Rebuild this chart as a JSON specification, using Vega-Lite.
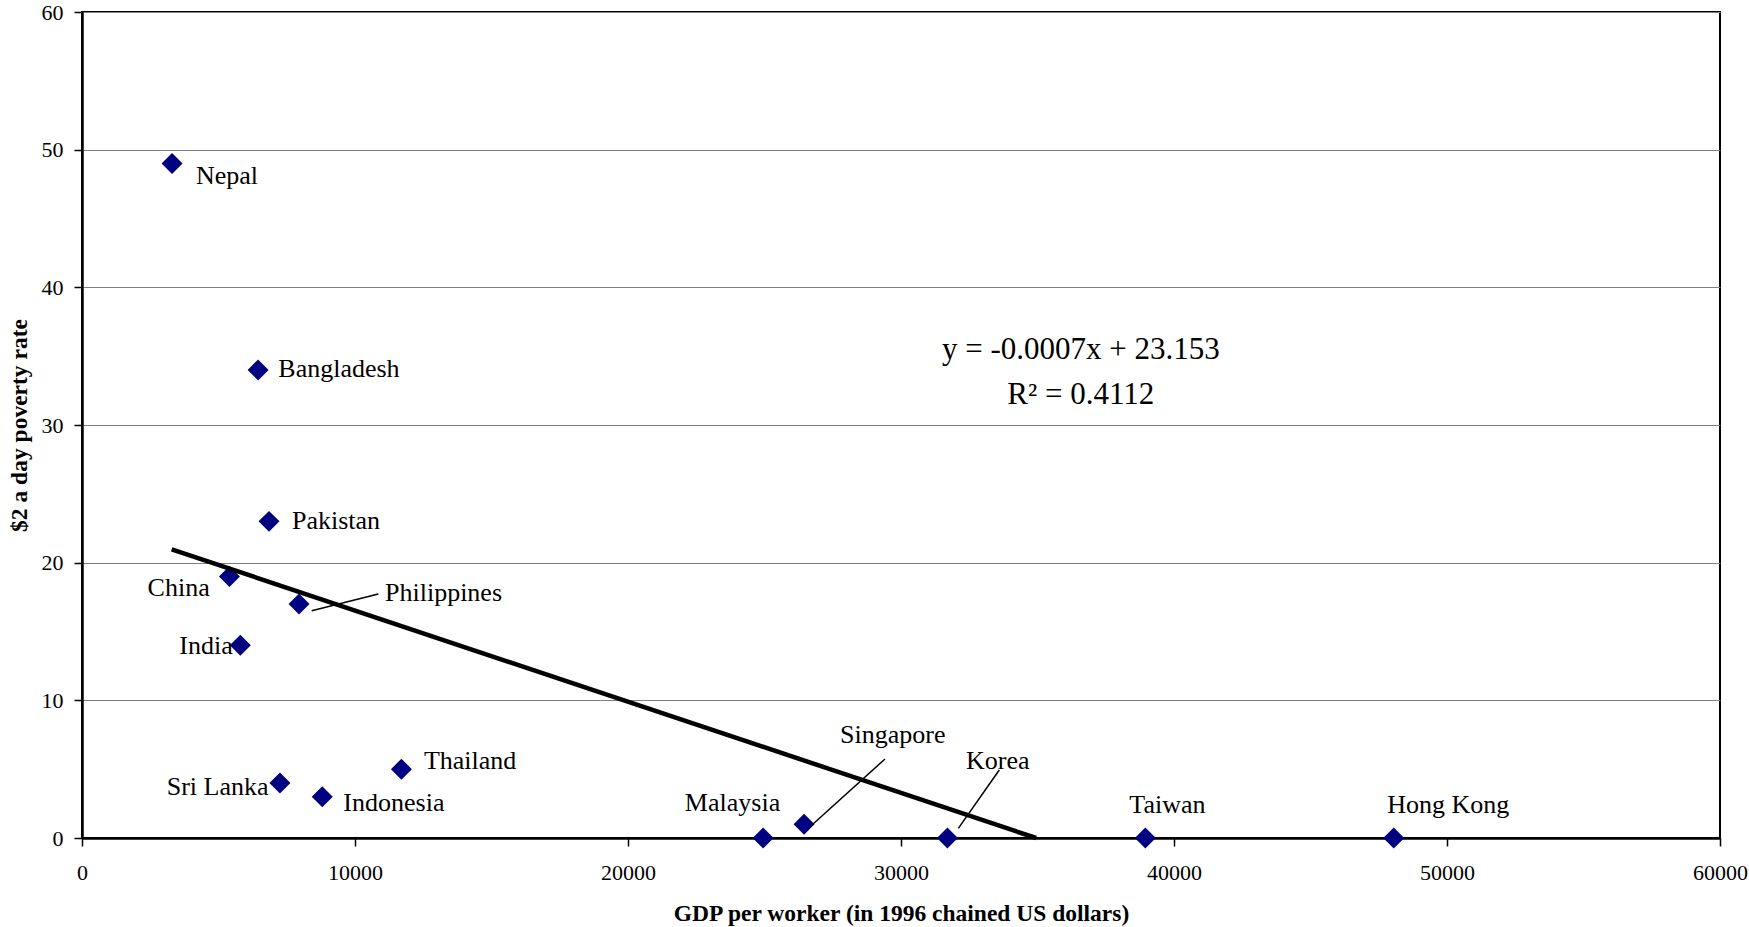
{
  "$schema": "https://vega.github.io/schema/vega-lite/v6.json",
  "width": 1638,
  "height": 826,
  "autosize": {"type": "none"},
  "padding": {"left": 82, "top": 12, "right": 29, "bottom": 89},
  "background": "white",
  "config": {
    "font": "Liberation Serif",
    "view": {"stroke": "black", "strokeWidth": 2},
    "axis": {
      "labelFont": "Liberation Serif",
      "labelFontSize": 22,
      "labelColor": "black",
      "tickColor": "black",
      "tickSize": 8,
      "tickWidth": 1.5,
      "domainColor": "black",
      "domainWidth": 2.5,
      "gridColor": "#808080",
      "gridWidth": 1,
      "gridOpacity": 1,
      "titleFont": "Liberation Serif",
      "titleFontSize": 23.5,
      "titleFontWeight": "bold",
      "titleColor": "black",
      "labelFlush": false,
      "labelOverlap": false
    }
  },
  "datasets": {
    "countries": [
      {"country": "Nepal", "gdp": 3300, "poverty": 49},
      {"country": "Bangladesh", "gdp": 6450, "poverty": 34},
      {"country": "Pakistan", "gdp": 6850, "poverty": 23},
      {"country": "China", "gdp": 5400, "poverty": 19},
      {"country": "Philippines", "gdp": 7950, "poverty": 17},
      {"country": "India", "gdp": 5800, "poverty": 14},
      {"country": "Sri Lanka", "gdp": 7250, "poverty": 4},
      {"country": "Indonesia", "gdp": 8800, "poverty": 3},
      {"country": "Thailand", "gdp": 11700, "poverty": 5},
      {"country": "Malaysia", "gdp": 24950, "poverty": 0},
      {"country": "Singapore", "gdp": 26450, "poverty": 1},
      {"country": "Korea", "gdp": 31700, "poverty": 0},
      {"country": "Taiwan", "gdp": 38950, "poverty": 0},
      {"country": "Hong Kong", "gdp": 48050, "poverty": 0}
    ],
    "labels": [
      {"country": "Nepal", "lx": 4176, "ly": 48.09},
      {"country": "Bangladesh", "lx": 7191, "ly": 34.1},
      {"country": "Pakistan", "lx": 7692, "ly": 23.03},
      {"country": "China", "lx": 2403, "ly": 18.18},
      {"country": "Philippines", "lx": 11099, "ly": 17.8},
      {"country": "India", "lx": 3565, "ly": 13.97},
      {"country": "Sri Lanka", "lx": 3102, "ly": 3.74},
      {"country": "Indonesia", "lx": 9573, "ly": 2.54},
      {"country": "Thailand", "lx": 12523, "ly": 5.61},
      {"country": "Malaysia", "lx": 22083, "ly": 2.54},
      {"country": "Singapore", "lx": 27766, "ly": 7.5},
      {"country": "Korea", "lx": 32381, "ly": 5.62},
      {"country": "Taiwan", "lx": 38364, "ly": 2.42},
      {"country": "Hong Kong", "lx": 47814, "ly": 2.42}
    ],
    "leaders": [
      {"country": "Philippines", "x1": 8414, "y1": 16.51, "x2": 10854, "y2": 17.72},
      {"country": "Singapore", "x1": 26667, "y1": 0.82, "x2": 29414, "y2": 5.74},
      {"country": "Korea", "x1": 32100, "y1": 0.7, "x2": 33600, "y2": 4.94}
    ],
    "trend": [
      {"tx": 3285, "ty": 20.97},
      {"tx": 34950, "ty": 0}
    ],
    "equation": [
      {"ex": 36586, "ey": 35.45, "label": "y = -0.0007x + 23.153"},
      {"ex": 36586, "ey": 32.18, "label": "R² = 0.4112"}
    ]
  },
  "layer": [
    {
      "data": {"name": "countries"},
      "mark": {"type": "point", "shape": "diamond", "filled": true, "size": 440, "color": "#000080", "opacity": 1, "strokeWidth": 0},
      "encoding": {
        "x": {
          "field": "gdp", "type": "quantitative",
          "title": "GDP per worker (in 1996 chained US dollars)",
          "scale": {"domain": [0, 60000], "nice": false, "zero": true},
          "axis": {
            "title": "GDP per worker (in 1996 chained US dollars)",
            "values": [0, 10000, 20000, 30000, 40000, 50000, 60000],
            "format": "d",
            "grid": false,
            "labelPadding": 16,
            "titleY": 75,
            "titleBaseline": "middle"
          }
        },
        "y": {
          "field": "poverty", "type": "quantitative",
          "title": "$2 a day poverty rate",
          "scale": {"domain": [0, 60], "nice": false, "zero": true},
          "axis": {
            "title": "$2 a day poverty rate",
            "values": [0, 10, 20, 30, 40, 50, 60],
            "grid": true,
            "labelPadding": 11,
            "titleX": -63,
            "titleY": 413,
            "titleBaseline": "middle"
          }
        }
      }
    },
    {
      "data": {"name": "trend"},
      "mark": {"type": "line", "color": "black", "strokeWidth": 4.5},
      "encoding": {
        "x": {"field": "tx", "type": "quantitative", "title": "GDP per worker (in 1996 chained US dollars)"},
        "y": {"field": "ty", "type": "quantitative", "title": "$2 a day poverty rate"}
      }
    },
    {
      "data": {"name": "leaders"},
      "mark": {"type": "rule", "color": "black", "strokeWidth": 1.5},
      "encoding": {
        "x": {"field": "x1", "type": "quantitative", "title": "GDP per worker (in 1996 chained US dollars)"},
        "y": {"field": "y1", "type": "quantitative", "title": "$2 a day poverty rate"},
        "x2": {"field": "x2"},
        "y2": {"field": "y2"}
      }
    },
    {
      "data": {"name": "labels"},
      "mark": {"type": "text", "align": "left", "baseline": "middle", "fontSize": 26, "color": "black", "font": "Liberation Serif"},
      "encoding": {
        "x": {"field": "lx", "type": "quantitative", "title": "GDP per worker (in 1996 chained US dollars)"},
        "y": {"field": "ly", "type": "quantitative", "title": "$2 a day poverty rate"},
        "text": {"field": "country"}
      }
    },
    {
      "data": {"name": "equation"},
      "mark": {"type": "text", "align": "center", "baseline": "middle", "fontSize": 31, "color": "black", "font": "Liberation Serif"},
      "encoding": {
        "x": {"field": "ex", "type": "quantitative", "title": "GDP per worker (in 1996 chained US dollars)"},
        "y": {"field": "ey", "type": "quantitative", "title": "$2 a day poverty rate"},
        "text": {"field": "label"}
      }
    }
  ]
}
